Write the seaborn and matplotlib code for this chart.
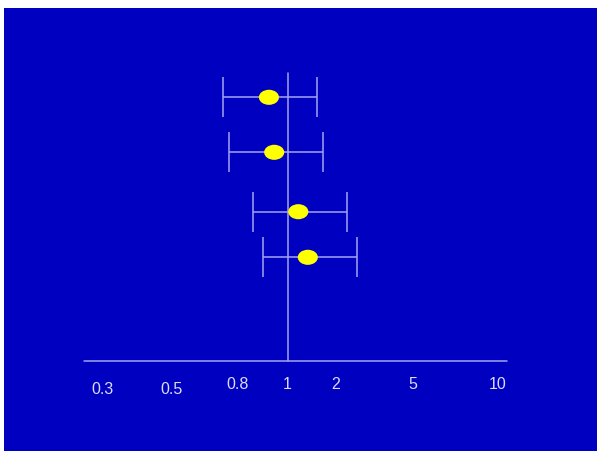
import numpy as np
import matplotlib
matplotlib.use("Agg")
import matplotlib.pyplot as plt
import seaborn as sns
import pandas as pd
from matplotlib.path import Path
from matplotlib.patches import Rectangle
from matplotlib.transforms import Affine2D

# ---- data (odds ratios) ----
odds_ratio = [0.76, 0.82, 1.16, 1.33]
ci_low = [0.39, 0.43, 0.60, 0.70]
ci_high = [1.52, 1.66, 2.34, 2.70]
tick_labels = ["0.3", "0.5", "0.8", "1", "2", "5", "10"]

# ---- layout (slide positions; the slide's tick labels are hand-placed) ----
tick_pos = [-1.1625, -0.727, -0.3125, -0.006, 0.297, 0.78, 1.3125]
tick_label_y = [389, 389, 384.5, 384.5, 384.5, 384.5, 384.5]
row_pos = [97.3, 152.3, 211.7, 257.3]

BG = "#0000C0"
LINE = "#a4a4ee"
TXT = "#dcdcf6"
YELLOW = "#ffff00"

sns.set_style("white")
plt.rcParams["font.family"] = ["Liberation Sans", "DejaVu Sans"]

fig = plt.figure(figsize=(5.97, 4.51), dpi=100)
fig.patch.set_facecolor("white")
ax = fig.add_axes([0, 0, 1, 1])
ax.set_facecolor("none")
ax.set_axis_off()
ax.add_patch(Rectangle((4 / 597, 0), 1 - 4 / 597, 443 / 451,
                       transform=ax.transAxes, facecolor=BG,
                       edgecolor="none", zorder=0))

k = 160.0
ax.set_xlim(-288 / k, (597 - 288) / k)
ax.set_ylim(451, 0)

df = pd.DataFrame({
    "logor": np.log10(odds_ratio),
    "lo": np.log10(ci_low),
    "hi": np.log10(ci_high),
    "row": row_pos,
})

# horizontal axis line and null line
ax.plot([(84 - 288) / k, (507 - 288) / k], [361.3, 361.3], color=LINE, lw=1.1, zorder=1)
ax.plot([0, 0], [73, 361.3], color=LINE, lw=1.1, zorder=1)

# confidence intervals
ax.errorbar(df["logor"], df["row"],
            xerr=[df["logor"] - df["lo"], df["hi"] - df["logor"]],
            fmt="none", ecolor=LINE, elinewidth=1.1, capsize=14.4,
            capthick=1.1, zorder=2)

# elliptical markers
circ = Path.unit_circle()
ellipse = Path(Affine2D().scale(1.0, 0.75).transform(circ.vertices), circ.codes)
sns.scatterplot(data=df, x="logor", y="row", marker=ellipse, s=210,
                color=YELLOW, edgecolor="none", linewidth=0, ax=ax,
                legend=False, zorder=3)

# tick labels
for p, lab, yy in zip(tick_pos, tick_labels, tick_label_y):
    ax.text(p, yy, lab, color=TXT, fontsize=11.5, ha="center", va="center", zorder=4)

fig.savefig("out.png", dpi=100, facecolor=fig.get_facecolor())
